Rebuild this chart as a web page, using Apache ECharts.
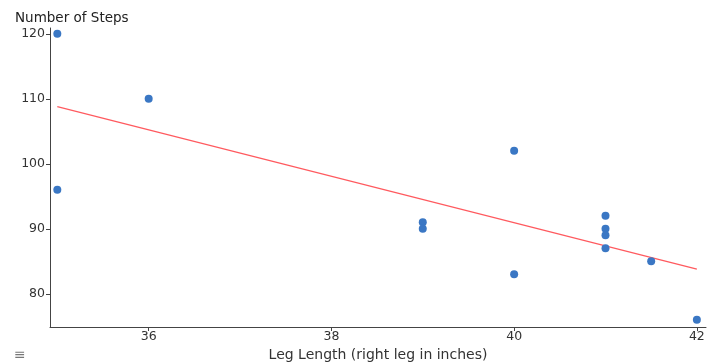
<!DOCTYPE html>
<html>
<head>
<meta charset="utf-8">
<script src="https://cdn.jsdelivr.net/npm/echarts@6/dist/echarts.min.js"></script>
<style>
  html, body { margin: 0; padding: 0; background: #fff; }
  #main { width: 713px; height: 362px; }
</style>
</head>
<body>
<div id="main"></div>
<script>
// leg length (in) vs number of steps
const legLength = [35, 35, 36, 39, 39, 40, 40, 41, 41, 41, 41, 41.5, 42];
const steps = [120, 96, 110, 91, 90, 102, 83, 92, 90, 89, 87, 85, 76];
// fitted line, endpoints
const fitX = [35, 42];
const fitY = [108.8, 83.8];
const xTicks = [36, 38, 40, 42];
const yTicks = [80, 90, 100, 110, 120];

const chart = echarts.init(document.getElementById('main'));

const tickFont = { fontFamily: 'DejaVu Sans', fontSize: 12.5, color: '#333' };

chart.setOption({
  animation: false,
  grid: { left: 50, right: 7, top: 28, bottom: 35, outerBoundsMode: 'none' },
  xAxis: {
    type: 'value',
    min: 34.92,
    max: 42.1,
    name: 'Leg Length (right leg in inches)',
    nameLocation: 'middle',
    nameGap: 19,
    nameTextStyle: { fontFamily: 'DejaVu Sans', fontSize: 14, color: '#333' },
    axisLine: { lineStyle: { color: '#444', width: 1 } },
    axisTick: { show: true, length: 4, customValues: xTicks, lineStyle: { color: '#444' } },
    axisLabel: { customValues: xTicks, margin: 3, ...tickFont },
    splitLine: { show: false }
  },
  yAxis: {
    type: 'value',
    min: 74.9,
    max: 120.9,
    axisLine: { show: true, lineStyle: { color: '#444', width: 1 } },
    axisTick: { show: true, length: 4, customValues: yTicks, lineStyle: { color: '#444' } },
    axisLabel: { customValues: yTicks, margin: 5, ...tickFont },
    splitLine: { show: false }
  },
  graphic: [
    {
      type: 'text', left: 15, top: 11,
      style: { text: 'Number of Steps', font: '13.5px "DejaVu Sans"', fill: '#222' }
    },
    {
      type: 'text', left: 14, top: 348,
      style: { text: '≡', font: '14px "DejaVu Sans"', fill: '#777' }
    }
  ],
  series: [
    {
      type: 'line',
      data: fitX.map((x, i) => [x, fitY[i]]),
      symbol: 'none',
      lineStyle: { color: '#ff5a5f', width: 1.2 },
      z: 2
    },
    {
      type: 'scatter',
      data: legLength.map((x, i) => [x, steps[i]]),
      symbolSize: 8,
      itemStyle: { color: '#3a77c4', opacity: 1 },
      z: 3
    }
  ]
});
</script>
</body>
</html>
